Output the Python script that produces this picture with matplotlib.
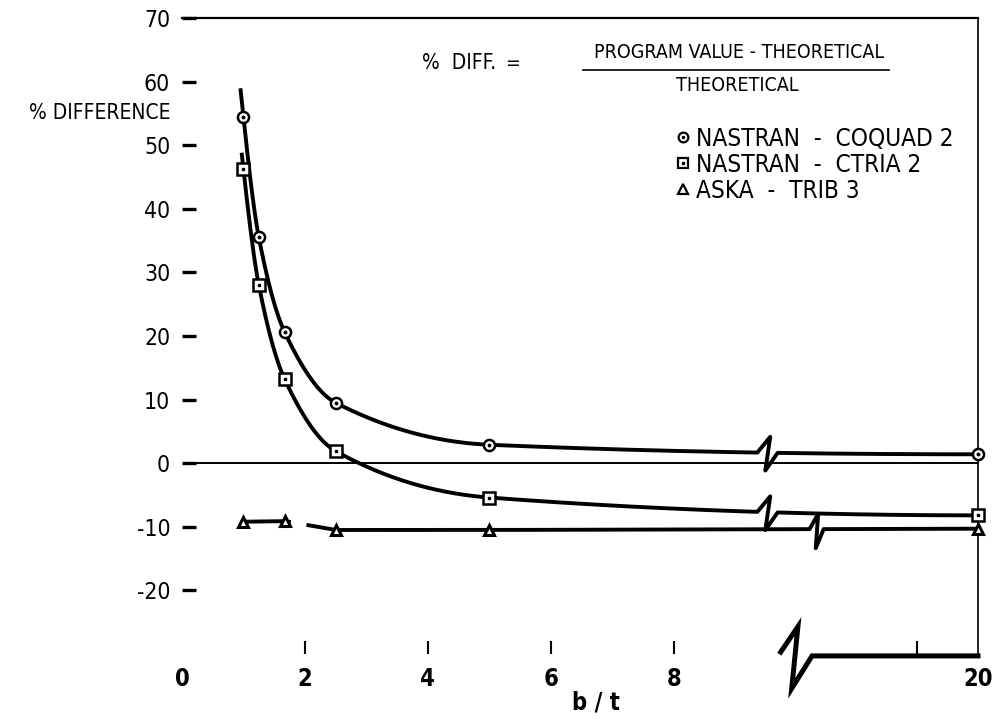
import numpy as np
import matplotlib
matplotlib.use("Agg")
import matplotlib.pyplot as plt
from matplotlib.lines import Line2D
from matplotlib import font_manager as fm

# pick a condensed face if one is installed
_fonts = fm.fontManager.ttflist
if any(f.name == 'Liberation Sans Narrow' for f in _fonts):
    plt.rcParams['font.family'] = ['Liberation Sans Narrow', 'DejaVu Sans']
    FSCALE = 1.0
elif any(f.name == 'DejaVu Sans' and f.stretch == 'condensed' for f in _fonts):
    plt.rcParams['font.family'] = ['DejaVu Sans']
    plt.rcParams['font.stretch'] = 'condensed'
    FSCALE = 1.0
else:
    plt.rcParams['font.family'] = ['Liberation Sans', 'DejaVu Sans']
    FSCALE = 0.9

# ---------------- data ----------------
bt_quad = [1.0, 1.25, 1.67, 2.5, 5.0, 20.0]
pct_quad = [54.4, 35.5, 20.6, 9.5, 2.9, 1.4]

bt_tria = [1.0, 1.25, 1.67, 2.5, 5.0, 20.0]
pct_tria = [46.2, 28.0, 13.2, 1.9, -5.4, -8.2]

bt_aska = [1.0, 1.67, 2.5, 5.0, 20.0]
pct_aska = [-9.2, -9.1, -10.5, -10.5, -10.3]

labels = ["NASTRAN  -  COQUAD 2", "NASTRAN  -  CTRIA 2", "ASKA  -  TRIB 3"]

y_ticks = [-20, -10, 0, 10, 20, 30, 40, 50, 60, 70]
x_tick_vals = [0, 2, 4, 6, 8, 20]
x_tick_labels = ["0", "2", "4", "6", "8", "20"]
x_minor_right = [16]


# broken axis: b/t <= 10 is linear, 20 sits at the right edge
def xpos(v):
    v = np.asarray(v, dtype=float)
    return np.where(v <= 10, v, 10.48 + (v - 10) * 0.247)


def pchip(x, y, xn):
    x = np.asarray(x, float); y = np.asarray(y, float)
    h = np.diff(x); d = np.diff(y) / h
    n = len(x)
    m = np.zeros(n)
    for k in range(1, n - 1):
        if d[k - 1] * d[k] <= 0:
            m[k] = 0.0
        else:
            w1 = 2 * h[k] + h[k - 1]; w2 = h[k] + 2 * h[k - 1]
            m[k] = (w1 + w2) / (w1 / d[k - 1] + w2 / d[k])
    def endslope(h0, h1, d0, d1):
        s = ((2 * h0 + h1) * d0 - h0 * d1) / (h0 + h1)
        if np.sign(s) != np.sign(d0):
            s = 0.0
        elif np.sign(d0) != np.sign(d1) and abs(s) > abs(3 * d0):
            s = 3 * d0
        return s
    m[0] = endslope(h[0], h[1], d[0], d[1])
    m[-1] = endslope(h[-1], h[-2], d[-1], d[-2])
    xn = np.asarray(xn, float)
    idx = np.clip(np.searchsorted(x, xn) - 1, 0, n - 2)
    hh = h[idx]
    t = (xn - x[idx]) / hh
    h00 = 2 * t**3 - 3 * t**2 + 1
    h10 = t**3 - 2 * t**2 + t
    h01 = -2 * t**3 + 3 * t**2
    h11 = t**3 - t**2
    return h00 * y[idx] + h10 * hh * m[idx] + h01 * y[idx + 1] + h11 * hh * m[idx + 1]


fig = plt.figure(figsize=(9.95, 7.24), dpi=100)
ax = fig.add_axes([182 / 995, 1 - 654 / 724, 796 / 995, 636 / 724])
XMAX = float(xpos(20))
ax.set_xlim(0, XMAX)
ax.set_ylim(-30, 70)

LW = 2.8


def curve_with_break(xs_data, ys_data, x_start, xb):
    xm = xpos(xs_data)
    xa = np.linspace(x_start, xb - 0.19, 300)
    xc = np.linspace(xb + 0.14, XMAX, 100)
    ya = pchip(xm, ys_data, xa)
    yc = pchip(xm, ys_data, xc)
    yb = pchip(xm, ys_data, [xb])[0]
    zx = [xb + 0.02, xb - 0.06]
    zy = [yb + 2.5, yb - 2.8]
    X = np.concatenate([xa, zx, xc])
    Y = np.concatenate([ya, zy, yc])
    ax.plot(X, Y, color='black', lw=LW, solid_capstyle='butt', zorder=2)


curve_with_break(bt_quad, pct_quad, 0.95, 9.55)
curve_with_break(bt_tria, pct_tria, 0.97, 9.55)

# ASKA: straight segments, small gap and a break mark
xm_a = xpos(bt_aska)
xa = np.linspace(xm_a[0], XMAX, 1200)
ya = np.interp(xa, xm_a, pct_aska)
ya[(xa > 1.74) & (xa < 2.05)] = np.nan
xb = 10.33
left = xa < xb - 0.12
right = xa > xb + 0.1
yb = float(np.interp(xb, xm_a, pct_aska))
X = np.concatenate([xa[left], [xb + 0.02, xb - 0.02], xa[right]])
Y = np.concatenate([ya[left], [yb + 2.4, yb - 3.0], ya[right]])
ax.plot(X, Y, color='black', lw=LW, zorder=2)

# zero line
ax.axhline(0, xmin=0.004, xmax=1, color='black', lw=1.4, zorder=1)

# markers
ax.plot(xpos(bt_quad), pct_quad, ls='none', marker='o', ms=8, mfc='white',
        mec='black', mew=1.8, zorder=4, clip_on=False)
ax.plot(xpos(bt_quad), pct_quad, ls='none', marker='o', ms=1.8, color='black',
        zorder=5, clip_on=False)
ax.plot(xpos(bt_tria), pct_tria, ls='none', marker='s', ms=8.5, mfc='white',
        mec='black', mew=1.8, zorder=4, clip_on=False)
ax.plot(xpos(bt_tria), pct_tria, ls='none', marker='s', ms=1.8, color='black',
        zorder=5, clip_on=False)
ax.plot(xpos(bt_aska), pct_aska, ls='none', marker='^', ms=7.5, mfc='white',
        mec='black', mew=2.2, zorder=4, clip_on=False)

# spines
for s in ['left', 'bottom']:
    ax.spines[s].set_visible(False)
ax.spines['top'].set_linewidth(1.6)
ax.spines['right'].set_linewidth(1.2)

# broken bottom axis at the right
ax.plot([9.74, 10.02, 9.92, 10.25, XMAX], [-29.7, -25.7, -35.4, -30.3, -30.3],
        color='black', lw=3.6, clip_on=False, solid_joinstyle='miter', zorder=3)

# y ticks
ax.set_yticks(y_ticks)
ax.set_yticklabels([str(v) for v in y_ticks])
ax.tick_params(axis='y', direction='in', length=10, width=2.4, pad=8.5,
               labelsize=16.5 * FSCALE, left=True)

# x ticks
all_x = list(xpos(x_tick_vals)) + list(xpos(x_minor_right))
all_lab = x_tick_labels + [''] * len(x_minor_right)
ax.set_xticks(all_x)
ax.set_xticklabels(all_lab)
ax.tick_params(axis='x', direction='in', length=9.5, width=1.5, pad=9,
               labelsize=17 * FSCALE)
for t, v in zip(ax.xaxis.get_major_ticks(), all_lab):
    if v in ('0', '20'):
        t.tick1line.set_visible(False)
for lab in ax.get_xticklabels():
    lab.set_fontweight('bold')

# axis titles
ax.text(-0.195, 55.0, "% DIFFERENCE", ha='right', va='center', fontsize=15 * FSCALE,
        clip_on=False)
ax.text(6.73, -37.6, "b / t", ha='center', va='center', fontsize=17 * FSCALE,
        fontweight='bold', clip_on=False)

# formula
ax.text(3.9, 62.9, "%  DIFF.", ha='left', va='center', fontsize=15 * FSCALE)
ax.text(5.38, 62.9, "=", ha='center', va='center', fontsize=14 * FSCALE)
ax.text(9.06, 64.6, "PROGRAM VALUE - THEORETICAL", ha='center', va='center',
        fontsize=14 * FSCALE)
ax.plot([6.53, 11.5], [61.8, 61.8], color='black', lw=1.2)
ax.text(9.04, 59.4, "THEORETICAL", ha='center', va='center', fontsize=14 * FSCALE)

# legend
h1 = (Line2D([], [], ls='none', marker='o', ms=7, mfc='white', mec='black', mew=1.6),
      Line2D([], [], ls='none', marker='o', ms=1.5, color='black'))
h2 = (Line2D([], [], ls='none', marker='s', ms=7, mfc='white', mec='black', mew=1.6),
      Line2D([], [], ls='none', marker='s', ms=1.5, color='black'))
h3 = Line2D([], [], ls='none', marker='^', ms=7, mfc='white', mec='black', mew=1.6)
leg = ax.legend([h1, h2, h3], labels, loc='upper left',
                bbox_to_anchor=(674 / 995, 1 - 127 / 724),
                bbox_transform=fig.transFigure, frameon=False, fontsize=17.5 * FSCALE,
                handlelength=0.7, handletextpad=0.2, labelspacing=0.08,
                borderpad=0, borderaxespad=0)

fig.savefig("out.png", dpi=100)
